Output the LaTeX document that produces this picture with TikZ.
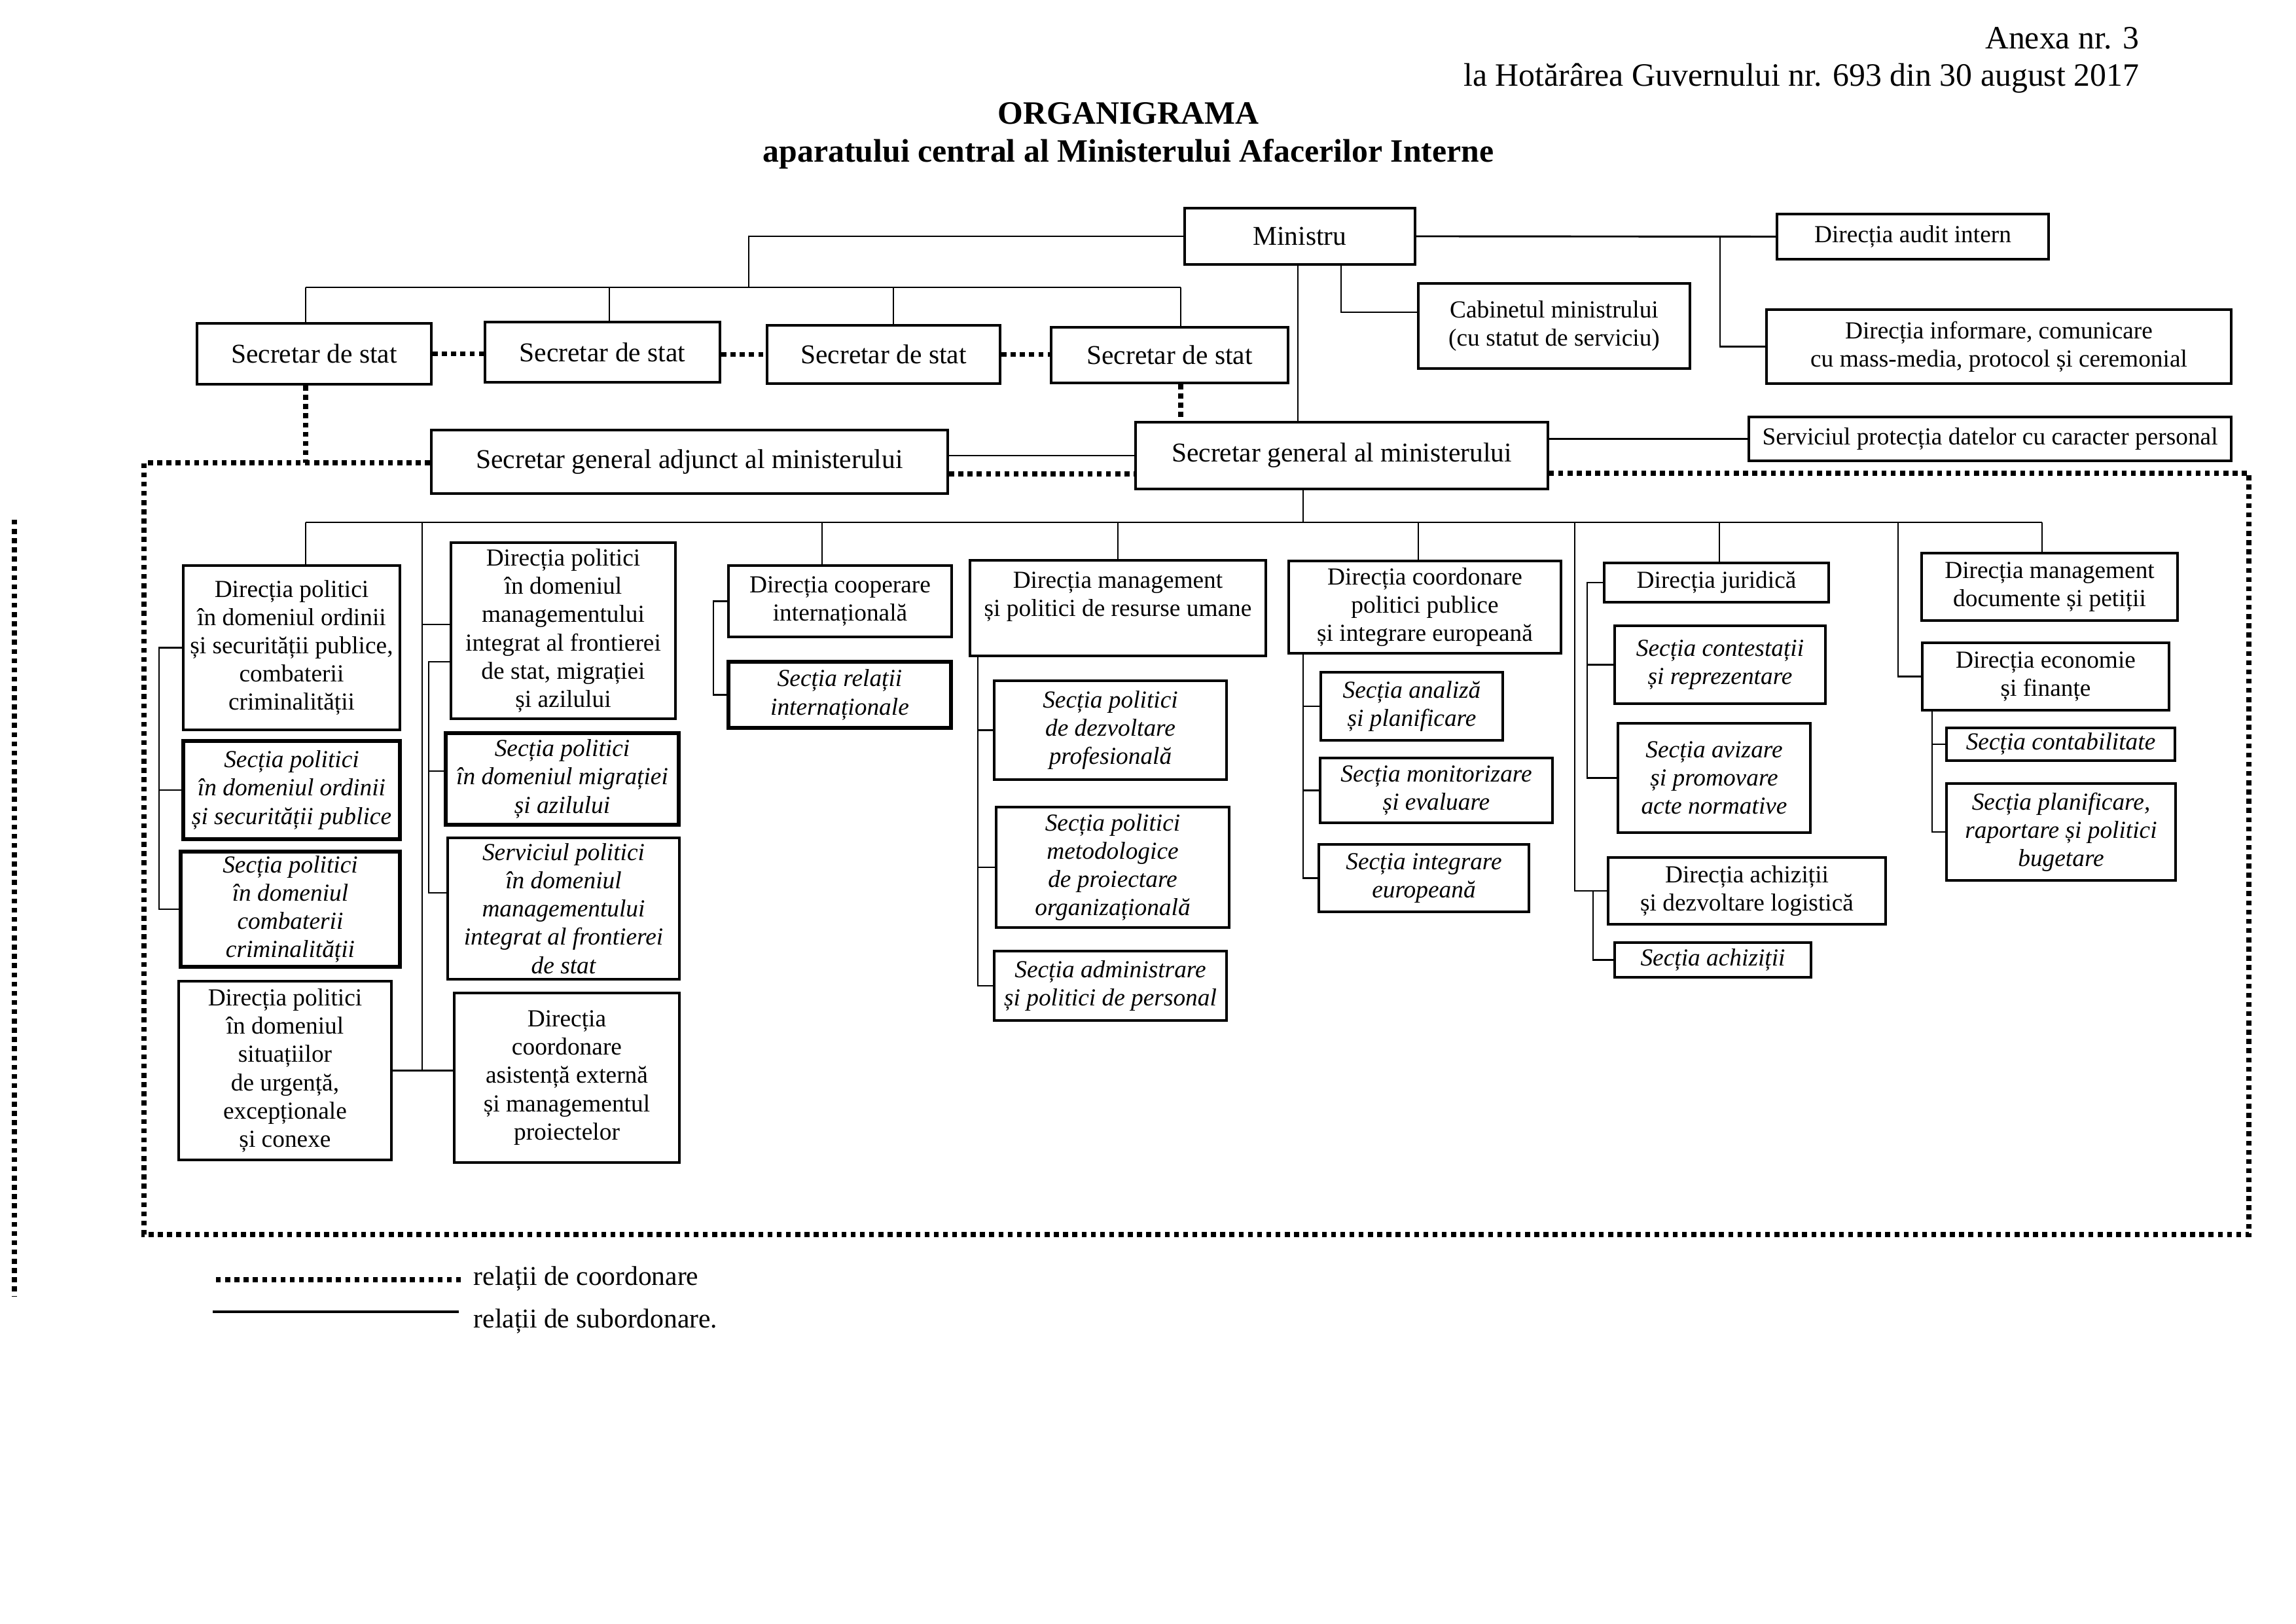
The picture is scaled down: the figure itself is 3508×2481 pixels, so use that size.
\documentclass[tikz,border=0pt]{standalone}
\usepackage{fontspec}
\setmainfont{Liberation Serif}

\tikzset{
  box/.style={draw, line width=0.8pt, inner sep=0pt, align=center,
    font=\fontsize{9}{10.4}\selectfont},
  mainbox/.style={box, line width=1pt, font=\fontsize{10}{12}\selectfont},
  secbox/.style={box, font=\fontsize{9}{10.4}\selectfont\itshape},
  thickbox/.style={line width=1.4pt},
  boxat/.style args={#1/#2/#3/#4}{minimum width={(#3-#1)*0.084667mm},
    minimum height={(#4-#2)*0.084667mm}, at={({(#1+#3)/2},{(#2+#4)/2})}},
  txt/.style={inner sep=0pt},
  subrel/.style={line width=0.7pt},
  coordrel/.style={line width=1.8pt, dash pattern=on 1.8pt off 1.6pt},
}

\begin{document}
\begin{tikzpicture}[x=0.084667mm, y=-0.084667mm]
\useasboundingbox (0,0) rectangle (3508,2481);

% Antet
\node[txt, anchor=base east, font=\fontsize{12}{14}\selectfont] (anexa) at (3269,75) {Anexa nr. 3};
\node[txt, anchor=base east, font=\fontsize{12}{14}\selectfont] (hot) at (3269,132) {la Hotărârea Guvernului nr. 693 din 30 august 2017};
\node[txt, anchor=base, font=\fontsize{12}{14}\selectfont\bfseries] (titlu) at (1724,190) {ORGANIGRAMA};
\node[txt, anchor=base, font=\fontsize{12}{14}\selectfont\bfseries] (subtitlu) at (1724,248) {aparatului central al Ministerului Afacerilor Interne};

% Conducerea
\node[mainbox, boxat=1810/318/2162/404] (min) {Ministru};
\node[mainbox, boxat=301/494/659/587] (ss1) {Secretar de stat};
\node[mainbox, boxat=741/492/1100/584] (ss2) {Secretar de stat};
\node[mainbox, boxat=1172/497/1528/586] (ss3) {Secretar de stat};
\node[mainbox, boxat=1606/500/1968/585] (ss4) {Secretar de stat};
\node[mainbox, boxat=659/657/1448/754] (sga) {Secretar general adjunct al ministerului};
\node[mainbox, boxat=1735/645/2365/747] (sg) {Secretar general al ministerului};

% Subdiviziunile ministrului
\node[box, boxat=2715/327/3130/396] (audit) {Direcția audit intern};
\node[box, boxat=2167/433/2582/563] (cab) {Cabinetul ministrului\\ (cu statut de serviciu)};
\node[box, boxat=2699/473/3409/586] (info) {Direcția informare, comunicare\\ cu mass-media, protocol și ceremonial};
\node[box, boxat=2672/637/3409/704] (serv) {Serviciul protecția datelor cu caracter personal};

% Coloana 1
\node[box, boxat=280/864/611/1115] (dA) {Direcția politici\\ în domeniul ordinii\\ și securității publice,\\ combaterii\\ criminalității};
\node[secbox, thickbox, boxat=280/1132/611/1282] (dB) {Secția politici\\ în domeniul ordinii\\ și securității publice};
\node[secbox, thickbox, boxat=276/1301/611/1477] (dC) {Secția politici\\ în domeniul\\ combaterii\\ criminalității};
\node[box, boxat=273/1499/598/1772] (dD) {Direcția politici\\ în domeniul\\ situațiilor\\ de urgență,\\ excepționale\\ și conexe};

% Coloana 2
\node[box, boxat=689/829/1032/1098] (dE) {Direcția politici\\ în domeniul\\ managementului\\ integrat al frontierei\\ de stat, migrației\\ și azilului};
\node[secbox, thickbox, boxat=681/1120/1037/1260] (dF) {Secția politici\\ în domeniul migrației\\ și azilului};
\node[secbox, boxat=684/1280/1038/1496] (dG) {Serviciul politici\\ în domeniul\\ managementului\\ integrat al frontierei\\ de stat};
\node[box, boxat=694/1517/1038/1776] (dH) {Direcția\\ coordonare\\ asistență externă\\ și managementul\\ proiectelor};

% Coloana 3
\node[box, boxat=1113/864/1454/973] (dK) {Direcția cooperare\\ internațională};
\node[secbox, thickbox, boxat=1113/1011/1453/1112] (sRI) {Secția relații\\ internaționale};

% Coloana 4
\node[box, boxat=1482/856/1934/1002] (dRU) {Direcția management\\ și politici de resurse umane\\ \mbox{}};
\node[secbox, boxat=1519/1040/1874/1191] (sPD) {Secția politici\\ de dezvoltare\\ profesională};
\node[secbox, boxat=1522/1233/1878/1417] (sPM) {Secția politici\\ metodologice\\ de proiectare\\ organizațională};
\node[secbox, boxat=1519/1453/1874/1559] (sAP) {Secția administrare\\ și politici de personal};

% Coloana 5
\node[box, boxat=1969/857/2385/998] (dCP) {Direcția coordonare\\ politici publice\\ și integrare europeană};
\node[secbox, boxat=2018/1027/2296/1131] (sAN) {Secția analiză\\ și planificare};
\node[secbox, boxat=2017/1158/2372/1257] (sMO) {Secția monitorizare\\ și evaluare};
\node[secbox, boxat=2015/1290/2336/1393] (sIE) {Secția integrare\\ europeană};

% Coloana 6
\node[box, boxat=2451/860/2794/920] (dJ) {Direcția juridică};
\node[secbox, boxat=2467/956/2789/1075] (sCR) {Secția contestații\\ și reprezentare};
\node[secbox, boxat=2472/1105/2766/1272] (sAV) {Secția avizare\\ și promovare\\ acte normative};
\node[box, boxat=2457/1310/2881/1412] (dAL) {Direcția achiziții\\ și dezvoltare logistică};
\node[secbox, boxat=2467/1440/2767/1493] (sAC) {Secția achiziții};

% Coloana 7
\node[box, boxat=2936/845/3327/948] (dMD) {Direcția management\\ documente și petiții};
\node[box, boxat=2937/982/3314/1085] (dEF) {Direcția economie\\ și finanțe};
\node[secbox, boxat=2974/1112/3323/1162] (sCT) {Secția contabilitate};
\node[secbox, boxat=2974/1197/3324/1345] (sPB) {Secția planificare,\\ raportare și politici\\ bugetare};

% Puncte de legatura
\coordinate (ssL) at (467,439);
\coordinate (ss2x) at (931,439);
\coordinate (ss3x) at (1365,439);
\coordinate (ssR) at (1804,439);
\coordinate (ssJ) at (1144,439);
\coordinate (infx) at (2628,361);
\coordinate (cabx) at (2049,477);
\coordinate (sgx) at (1983,500);
\coordinate (busL) at (467,798);
\coordinate (busR) at (3120,798);

% Relatii de subordonare - conducere
\draw[subrel] (min.west) -| (ssJ);
\draw[subrel] (ssL) -- (ssR);
\draw[subrel] (ssL) -- (ssL |- ss1.north);
\draw[subrel] (ss2x) -- (ss2x |- ss2.north);
\draw[subrel] (ss3x) -- (ss3x |- ss3.north);
\draw[subrel] (ssR) -- (ssR |- ss4.north);
\draw[subrel] (min.east) -- (audit.west);
\draw[subrel] (infx) |- (info.west);
\draw[subrel] (min.south -| cabx) |- (cab.west |- cabx);
\draw[subrel] (min.south -| sgx) -- (sg.north -| sgx);
\draw[subrel] (sga.east |- 0,696) -- (sg.west |- 0,696);
\draw[subrel] (sg.east |- serv.west) -- (serv.west);

% Magistrala secretarului general
\draw[subrel] (busL) -- (busR);
\draw[subrel] (sg.south -| 1991,0) -- (busL -| 1991,0);

% Coloana 1
\coordinate (c1) at (243,989);
\draw[subrel] (busL) -- (busL |- dA.north);
\draw[subrel] (dA.west) -| (c1 |- dC.west) -- (dC.west);
\draw[subrel] (c1 |- dB.west) -- (dB.west);

% Coloana 2
\coordinate (c2) at (645,798);
\coordinate (c2i) at (655,1011);
\draw[subrel] (c2) -- (c2 |- dD.east);
\draw[subrel] (dD.east) -- (dH.west |- dD.east);
\draw[subrel] (c2 |- 0,954) -- (dE.west |- 0,954);
\draw[subrel] (dE.west |- c2i) -| (c2i |- 0,1364) -- (dG.west |- 0,1364);
\draw[subrel] (c2i |- 0,1178) -- (dF.west |- 0,1178);

% Coloana 3
\coordinate (c3) at (1256,798);
\coordinate (c3i) at (1090,918);
\draw[subrel] (c3) -- (c3 |- dK.north);
\draw[subrel] (dK.west) -| (c3i |- sRI.west) -- (sRI.west);

% Coloana 4
\coordinate (c4) at (1494,1002);
\draw[subrel] (busL -| dRU.north) -- (dRU.north);
\draw[subrel] (dRU.south -| c4) |- (sAP.west);
\draw[subrel] (c4 |- sPD.west) -- (sPD.west);
\draw[subrel] (c4 |- sPM.west) -- (sPM.west);

% Coloana 5
\coordinate (c5) at (2167,798);
\coordinate (c5i) at (1991,998);
\draw[subrel] (c5) -- (c5 |- dCP.north);
\draw[subrel] (dCP.south -| c5i) |- (sIE.west);
\draw[subrel] (c5i |- sAN.west) -- (sAN.west);
\draw[subrel] (c5i |- sMO.west) -- (sMO.west);

% Coloana 6
\coordinate (c6) at (2406,798);
\coordinate (c6a) at (2434,1361);
\coordinate (c6j) at (2627,798);
\coordinate (c6i) at (2425,890);
\draw[subrel] (c6) |- (dAL.west);
\draw[subrel] (dAL.west -| c6a) |- (sAC.west);
\draw[subrel] (c6j) -- (c6j |- dJ.north);
\draw[subrel] (dJ.west) -| (c6i |- sAV.west) -- (sAV.west);
\draw[subrel] (c6i |- sCR.west) -- (sCR.west);

% Coloana 7
\coordinate (c7) at (2900,798);
\coordinate (c7i) at (2952,1085);
\draw[subrel] (c7) |- (dEF.west);
\draw[subrel] (busR) -- (busR |- dMD.north);
\draw[subrel] (dEF.south -| c7i) |- (sPB.west);
\draw[subrel] (c7i |- sCT.west) -- (sCT.west);

% Relatii de coordonare
\coordinate (frTL) at (220,707);
\coordinate (frBL) at (220,1886);
\coordinate (frBR) at (3436,1886);
\coordinate (frTR) at (3436,723);
\draw[coordrel] (ss1.east) -- (ss2.west |- ss1.east);
\draw[coordrel] (ss2.east |- ss3.west) -- (ss3.west);
\draw[coordrel] (ss3.east) -- (ss4.west |- ss3.east);
\draw[coordrel] (ss1.south -| ssL) -- (frTL -| ssL);
\draw[coordrel] (ss4.south -| ssR) -- (sg.north -| ssR);
\draw[coordrel] (sga.east |- 0,724) -- (sg.west |- 0,724);
\draw[coordrel] (sga.west |- frTL) -- (frTL) -- (frBL) -- (frBR) -- (frTR) -- (sg.east |- frTR);
\coordinate (margA) at (22,794);
\coordinate (margB) at (22,1980);
\draw[coordrel] (margA) -- (margB);

% Legenda
\coordinate (lg1a) at (330,1955);
\coordinate (lg1b) at (704,1955);
\coordinate (lg2a) at (325,2004);
\coordinate (lg2b) at (701,2004);
\draw[coordrel] (lg1a) -- (lg1b);
\draw[subrel, line width=1pt] (lg2a) -- (lg2b);
\node[txt, anchor=base west, font=\fontsize{10}{12}\selectfont] (lgc) at (723,1963) {relații de coordonare};
\node[txt, anchor=base west, font=\fontsize{10}{12}\selectfont] (lgs) at (723,2028) {relații de subordonare.};

\end{tikzpicture}
\end{document}
